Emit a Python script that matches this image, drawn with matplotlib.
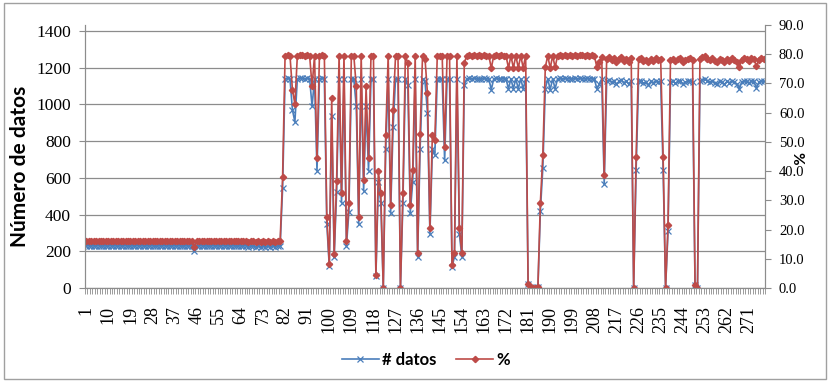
import numpy as np
import matplotlib
matplotlib.use("Agg")
import matplotlib.pyplot as plt
from matplotlib.patches import Rectangle
from matplotlib.ticker import FixedLocator, MultipleLocator

# posicion de cada registro (eje de categorias)
registros = np.arange(1, 278)

# numero de datos por registro (eje izquierdo)
num_datos = [
    230, 231, 230, 229, 230, 231, 230, 230, 229, 230,
    231, 230, 230, 229, 230, 230, 231, 230, 229, 230,
    230, 231, 230, 230, 229, 230, 231, 230, 230, 229,
    230, 231, 230, 230, 229, 230, 230, 231, 230, 229,
    230, 230, 231, 229, 200, 230, 231, 230, 230, 229,
    230, 231, 230, 230, 229, 230, 231, 230, 230, 229,
    230, 231, 230, 229, 230, 231, 222, 230, 229, 224,
    231, 222, 230, 224, 229, 222, 231, 225, 230, 231,
    545, 1140, 1142, 1140, 970, 905, 1140, 1145, 1142, 1140,
    1143, 1140, 990, 1140, 640, 1140, 1142, 1140, 350, 120,
    935, 170, 525, 1140, 465, 1140, 230, 415, 1140, 1140,
    990, 350, 1140, 530, 990, 640, 1140, 1140, 65, 575,
    465, 0, 755, 1140, 410, 875, 1140, 1140, 0, 465,
    1140, 1105, 410, 580, 1140, 170, 755, 1140, 1125, 955,
    295, 755, 725, 1140, 1140, 1140, 695, 1140, 1140, 115,
    170, 1140, 295, 170, 1105, 1140, 1142, 1140, 1143, 1140,
    1141, 1140, 1142, 1140, 1140, 1080, 1140, 1142, 1140, 1141,
    1140, 1140, 1085, 1140, 1085, 1140, 1085, 1140, 1085, 1140,
    20, 5, 0, 0, 5, 420, 655, 1085, 1140, 1080,
    1140, 1085, 1140, 1142, 1140, 1143, 1140, 1141, 1140, 1142,
    1140, 1143, 1141, 1140, 1142, 1140, 1141, 1140, 1085, 1110,
    1140, 565, 1125, 1135, 1120, 1130, 1110, 1125, 1135, 1118,
    1128, 1110, 1130, 0, 645, 1125, 1130, 1115, 1120, 1105,
    1125, 1118, 1130, 1122, 1128, 645, 0, 310, 1120, 1128,
    1115, 1125, 1130, 1112, 1122, 1128, 1130, 1120, 15, 0,
    1125, 1135, 1140, 1128, 1120, 1130, 1115, 1112, 1125, 1120,
    1110, 1125, 1118, 1130, 1120, 1112, 1085, 1120, 1130, 1125,
    1115, 1130, 1125, 1090, 1120, 1130, 1125,
]

# porcentaje por registro (eje derecho)
porcentaje = [
    16.1, 16.2, 16.1, 16.0, 16.1, 16.2, 16.1, 16.1, 16.0, 16.1,
    16.2, 16.1, 16.1, 16.0, 16.1, 16.1, 16.2, 16.1, 16.0, 16.1,
    16.1, 16.2, 16.1, 16.1, 16.0, 16.1, 16.2, 16.1, 16.1, 16.0,
    16.1, 16.2, 16.1, 16.1, 16.0, 16.1, 16.1, 16.2, 16.1, 16.0,
    16.1, 16.1, 16.2, 16.0, 13.9, 16.1, 16.2, 16.1, 16.1, 16.0,
    16.1, 16.2, 16.1, 16.1, 16.0, 16.1, 16.2, 16.1, 16.1, 16.0,
    16.1, 16.2, 16.1, 16.0, 16.1, 16.2, 15.6, 16.1, 16.0, 15.7,
    16.2, 15.6, 16.1, 15.7, 16.0, 15.6, 16.2, 15.8, 16.1, 16.2,
    38.0, 79.5, 79.6, 79.5, 67.8, 63.0, 79.5, 79.7, 79.6, 79.5,
    79.6, 79.5, 69.0, 79.5, 44.5, 79.5, 79.6, 79.5, 24.4, 8.2,
    65.0, 11.8, 36.5, 79.5, 32.4, 79.5, 16.0, 29.0, 79.5, 79.5,
    69.0, 24.4, 79.5, 37.0, 69.0, 44.5, 79.5, 79.5, 4.5, 40.0,
    32.5, 0.0, 52.5, 79.5, 28.4, 61.0, 79.5, 79.5, 0.0, 32.5,
    79.5, 77.0, 28.4, 40.4, 79.5, 12.0, 52.7, 79.5, 78.5, 66.7,
    20.5, 52.5, 50.5, 79.5, 79.5, 79.5, 48.4, 79.5, 79.5, 7.9,
    12.0, 79.5, 20.5, 12.0, 77.0, 79.5, 79.6, 79.5, 79.7, 79.5,
    79.6, 79.5, 79.6, 79.5, 79.5, 75.2, 79.5, 79.6, 79.5, 79.6,
    79.5, 79.5, 75.3, 79.5, 75.3, 79.5, 75.3, 79.5, 75.3, 79.5,
    1.5, 0.5, 0.0, 0.0, 0.5, 29.2, 45.5, 75.5, 79.5, 75.2,
    79.5, 75.5, 79.5, 79.6, 79.5, 79.7, 79.5, 79.6, 79.5, 79.6,
    79.5, 79.7, 79.6, 79.5, 79.6, 79.5, 79.6, 79.5, 75.5, 77.2,
    79.0, 38.7, 78.3, 79.0, 77.9, 78.6, 77.5, 78.2, 78.9, 77.8,
    78.5, 77.3, 78.6, 0.0, 44.9, 78.3, 78.6, 77.7, 78.0, 77.2,
    78.3, 77.8, 78.6, 78.1, 78.5, 44.9, 0.0, 21.6, 78.0, 78.5,
    77.7, 78.3, 78.6, 77.5, 78.1, 78.5, 78.6, 78.0, 1.0, 0.0,
    78.3, 79.0, 79.3, 78.5, 78.0, 78.6, 77.7, 77.5, 78.3, 78.0,
    77.3, 78.3, 77.8, 78.6, 78.0, 77.5, 75.5, 78.0, 78.6, 78.3,
    77.7, 78.6, 78.3, 76.0, 78.0, 78.6, 78.3,
]

etiquetas_x = [1, 10, 19, 28, 37, 46, 55, 64, 73, 82, 91, 100, 109, 118, 127,
               136, 145, 154, 163, 172, 181, 190, 199, 208, 217, 226, 235,
               244, 253, 262, 271]
ticks_izq = [0, 200, 400, 600, 800, 1000, 1200, 1400]
ticks_der = [0, 10, 20, 30, 40, 50, 60, 70, 80, 90]

azul = "#4A7EBB"
rojo = "#BE4B48"
gris = "#8C8C8C"
serif = "Liberation Serif"
sans = "Lato"

fig = plt.figure(figsize=(8.3, 3.83), dpi=100)
ax = fig.add_axes([85 / 830, 95 / 383, 680 / 830, 263 / 383])
ax2 = ax.twinx()

l1, = ax.plot(registros, num_datos, color=azul, lw=1.2, marker="x",
              markersize=4, markeredgewidth=0.9, label="# datos")
l2, = ax2.plot(registros, porcentaje, color=rojo, lw=1.2, marker="D",
               markersize=3.2, label="%")

ax.set_xlim(0.5, 277.5)
ax.set_ylim(0, 1400 * 263 / 257)
ax2.set_ylim(0, 90)

ax.yaxis.set_major_locator(FixedLocator(ticks_izq))
ax.set_yticklabels([str(t) for t in ticks_izq], fontfamily=serif, fontsize=12.5)
ax2.yaxis.set_major_locator(FixedLocator(ticks_der))
ax2.set_yticklabels([f"{t:.1f}" for t in ticks_der], fontfamily=serif, fontsize=10.5)

ax.xaxis.set_major_locator(FixedLocator(etiquetas_x))
ax.set_xticklabels([str(t) for t in etiquetas_x], rotation=90,
                   fontfamily=serif, fontsize=13)
ax.xaxis.set_minor_locator(MultipleLocator(1, offset=0.5))
ax.tick_params(axis="x", which="major", length=0, pad=13)
ax.tick_params(axis="x", which="minor", length=4, width=0.6, color=gris)
ax.tick_params(axis="y", length=4, width=0.8, color=gris, pad=6)
ax2.tick_params(axis="y", length=4, width=0.8, color=gris, pad=6)

ax.grid(axis="y", color=gris, lw=0.9)
ax.set_axisbelow(True)
for a in (ax, ax2):
    a.spines["top"].set_visible(False)
    for s in ("left", "right", "bottom"):
        a.spines[s].set_color(gris)

fig.text(20 / 830, 1 - 166 / 383, "Número de datos", rotation=90, ha="center",
         va="center", fontfamily=sans, fontweight="bold", fontsize=15)
fig.text(796 / 830, 1 - 158 / 383, "%", rotation=270, ha="center", va="center",
         fontfamily=sans, fontweight="bold", fontsize=11)

leg = fig.legend(handles=[l1, l2], loc="center", bbox_to_anchor=(426 / 830, 23 / 383),
                 ncol=2, frameon=False, handlelength=2.2, handletextpad=0.2,
                 columnspacing=1.2, prop={"family": sans, "weight": "bold", "size": 12})

fig.patches.append(Rectangle((4 / 830, 4 / 383), 822 / 830, 376 / 383,
                             transform=fig.transFigure, fill=False,
                             edgecolor="#A0A0A0", lw=1))

fig.savefig("out.png", dpi=100)
